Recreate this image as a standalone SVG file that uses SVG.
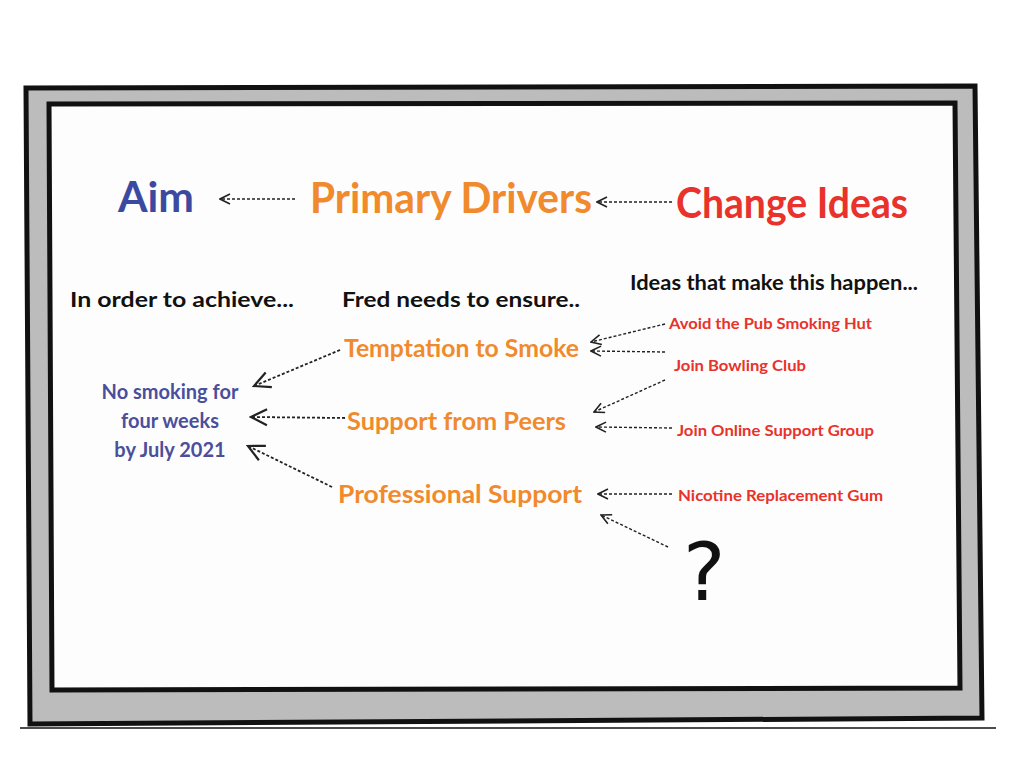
<svg xmlns="http://www.w3.org/2000/svg" width="1024" height="768" viewBox="0 0 1024 768">
<defs>
<marker id="ah" viewBox="0 0 12 12" refX="11" refY="6" markerWidth="12" markerHeight="12" markerUnits="userSpaceOnUse" orient="auto">
<path d="M1,1 L11,6 L1,11" fill="none" stroke="#222" stroke-width="1.6"/>
</marker>
<marker id="ahb" viewBox="0 0 20 20" refX="18" refY="10" markerWidth="20" markerHeight="20" markerUnits="userSpaceOnUse" orient="auto">
<path d="M2,2 L18,10 L2,18" fill="none" stroke="#222" stroke-width="2.2"/>
</marker>
</defs>
<style>
text{font-family:Lato,"Open Sans","Liberation Sans",sans-serif;font-weight:bold}
.h{font-size:42px}
.k{font-size:21px;fill:#111}
.o{font-size:25px;fill:#f08a2c}
.b{font-size:20px;fill:#4a4f9c;text-anchor:middle}
.r{font-size:16px;fill:#e8322b}
.q{font-family:"DejaVu Sans",sans-serif;font-weight:normal;font-size:80px;fill:#111}
.c line{stroke:#222;stroke-width:1.4;stroke-dasharray:3 2}
.c .s{marker-end:url(#ah)}
.c .l{marker-end:url(#ahb);stroke-width:1.8}
</style>
<rect width="1024" height="768" fill="#fff"/>
<g id="frame">
<path d="M26,88 L975,86 L982,718 L30,724 Z" fill="#bcbcbc" stroke="#111" stroke-width="5"/>
<path d="M49,104 L955,103 L960,688 L52,690 Z" fill="#fdfdfd" stroke="#111" stroke-width="5"/>
<line x1="20" y1="728" x2="996" y2="728" stroke="#111" stroke-width="1.5"/>
</g>
<g id="headers">
<text x="118" y="212" class="h" fill="#3b4aa0" textLength="76" lengthAdjust="spacingAndGlyphs">Aim</text>
<text x="310" y="213" class="h" fill="#f08a2c" textLength="282" lengthAdjust="spacingAndGlyphs">Primary Drivers</text>
<text x="676" y="218" class="h" fill="#e8322b" textLength="232" lengthAdjust="spacingAndGlyphs">Change Ideas</text>
<text x="70" y="307" class="k" textLength="224" lengthAdjust="spacingAndGlyphs">In order to  achieve...</text>
<text x="342" y="307" class="k" textLength="238" lengthAdjust="spacingAndGlyphs">Fred needs to ensure..</text>
<text x="630" y="290" class="k" textLength="288" lengthAdjust="spacingAndGlyphs">Ideas that make this happen...</text>
</g>
<g id="aim">
<text x="170" y="399" class="b">No smoking for</text>
<text x="170" y="428" class="b">four weeks</text>
<text x="170" y="457" class="b">by July 2021</text>
</g>
<g id="drivers">
<text id="d1" x="344" y="357" class="o" textLength="235" lengthAdjust="spacingAndGlyphs">Temptation to Smoke</text>
<text id="d2" x="347" y="430" class="o" textLength="219" lengthAdjust="spacingAndGlyphs">Support from Peers</text>
<text id="d3" x="338" y="503" class="o" textLength="244" lengthAdjust="spacingAndGlyphs">Professional Support</text>
</g>
<g id="ideas">
<text x="669" y="329" class="r" textLength="203" lengthAdjust="spacingAndGlyphs">Avoid the Pub Smoking Hut</text>
<text x="674" y="371" class="r" textLength="132" lengthAdjust="spacingAndGlyphs">Join Bowling Club</text>
<text x="677" y="436" class="r" textLength="197" lengthAdjust="spacingAndGlyphs">Join Online Support Group</text>
<text x="678" y="501" class="r" textLength="205" lengthAdjust="spacingAndGlyphs">Nicotine Replacement Gum</text>
<text x="683" y="600" class="q">?</text>
</g>
<g id="connectors" class="c">
<line class="s" x1="295" y1="199" x2="220" y2="199"/>
<line class="s" x1="672" y1="202" x2="597" y2="202"/>
<line class="l" x1="340" y1="350" x2="254" y2="386"/>
<line class="l" x1="345" y1="418" x2="251" y2="417"/>
<line class="l" x1="332" y1="487" x2="248" y2="446"/>
<line class="s" x1="665" y1="324" x2="591" y2="342"/>
<line class="s" x1="665" y1="352" x2="591" y2="351"/>
<line class="s" x1="665" y1="380" x2="594" y2="412"/>
<line class="s" x1="672" y1="428" x2="596" y2="427"/>
<line class="s" x1="672" y1="494" x2="598" y2="494"/>
<line class="s" x1="668" y1="547" x2="601" y2="515"/>
</g>
</svg>
